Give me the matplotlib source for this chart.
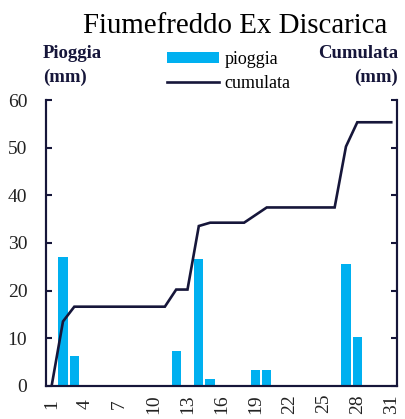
import numpy as np
import matplotlib
matplotlib.use("Agg")
import matplotlib.pyplot as plt

# Daily rain (mm) and its running total
days = np.arange(1, 32)
pioggia = [0, 27.0, 6.2, 0, 0, 0, 0, 0, 0, 0,
           0, 7.2, 0, 26.7, 1.4, 0, 0, 0, 3.2, 3.2,
           0, 0, 0, 0, 0, 0, 25.6, 10.2, 0, 0, 0]
cumulata = np.cumsum(pioggia)
xticks = list(range(1, 32, 3))

navy = '#16163a'
blue = '#00b0f0'
plt.rcParams['font.family'] = ['Liberation Serif', 'DejaVu Serif']

fig = plt.figure(figsize=(4.05, 4.19), dpi=100)
ax = fig.add_axes([0.1136, 0.0795, 0.8664, 0.6815])
ax2 = ax.twinx()

bars = ax.bar(days, pioggia, width=0.82, color=blue, zorder=2, label='pioggia')
line, = ax2.plot(days, cumulata, color=navy, lw=1.9, label='cumulata',
                 solid_joinstyle='miter')

ax.set_xlim(0.5, 31.5)
ax.set_ylim(0, 60)
ax2.set_ylim(0, 120)
ax.set_yticks(range(0, 61, 10))
ax2.set_yticks(range(0, 121, 20))
ax2.set_yticklabels([])
ax.set_xticks(xticks)
ax.set_xticklabels([str(t) for t in xticks], rotation=90, va='center')

for a in (ax, ax2):
    for s in a.spines.values():
        s.set_color(navy)
        s.set_linewidth(1.5)
    a.spines['top'].set_visible(False)
ax.tick_params(axis='x', length=0, pad=13, labelsize=14, labelcolor='#222222')
ax.tick_params(axis='y', direction='in', length=4.5, width=1.5, color=navy,
               pad=13.5, labelsize=14, labelcolor='#222222')
ax2.tick_params(axis='y', direction='in', length=4.5, width=1.5, color=navy)

fig.text(235/405, 1 - 33/419, 'Fiumefreddo Ex Discarica', ha='center',
         va='baseline', fontsize=20.8, color='black')
fig.text(43/405, 1 - 57.5/419, 'Pioggia', ha='left', va='baseline',
         fontsize=13.5, fontweight='bold', color=navy)
fig.text(43/405, 1 - 82/419, '(mm)', ha='left', va='baseline',
         fontsize=13.5, fontweight='bold', color=navy)
fig.text(398/405, 1 - 57.5/419, 'Cumulata', ha='right', va='baseline',
         fontsize=13.5, fontweight='bold', color=navy)
fig.text(398/405, 1 - 82/419, '(mm)', ha='right', va='baseline',
         fontsize=13.5, fontweight='bold', color=navy)

fig.legend(handles=[bars, line], loc='upper left',
           bbox_to_anchor=(167/405, 1 - 51/419), frameon=False,
           fontsize=13, handlelength=2.9, handleheight=0.55,
           handletextpad=0.3, labelspacing=0.4, borderpad=0, borderaxespad=0)

fig.savefig('out.png', dpi=100)
